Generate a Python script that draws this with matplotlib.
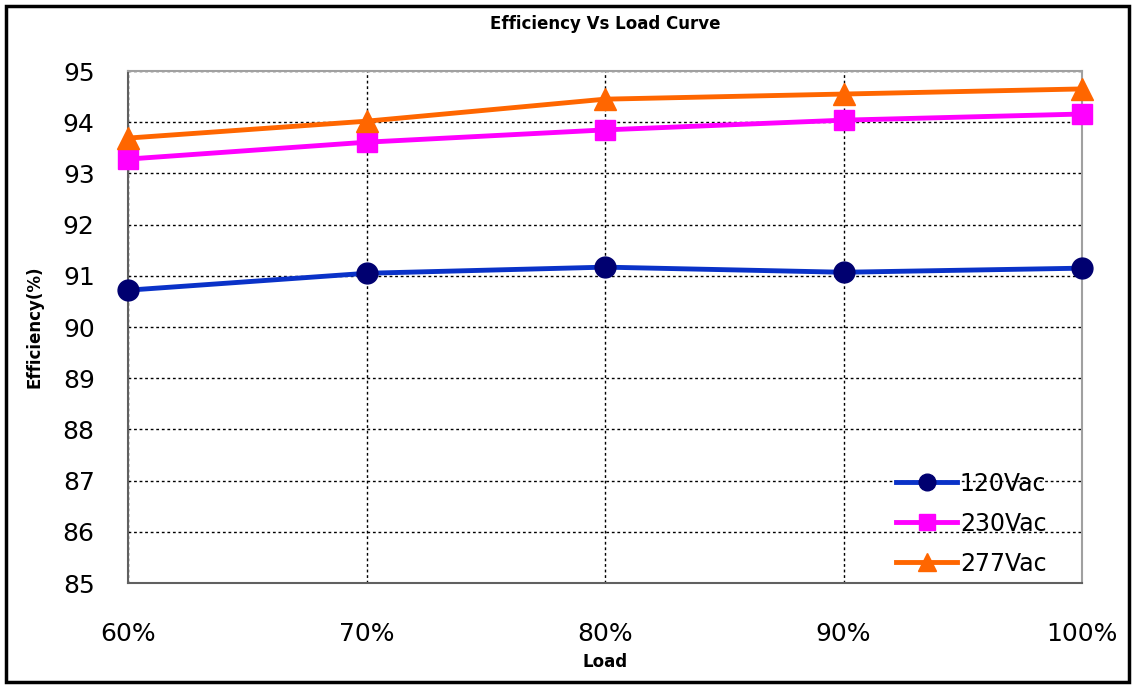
import matplotlib
matplotlib.use("Agg")
import matplotlib.pyplot as plt
from matplotlib.patches import Rectangle

# data
loads = [60, 70, 80, 90, 100]
load_labels = ["60%", "70%", "80%", "90%", "100%"]
eff_120 = [90.72, 91.05, 91.17, 91.07, 91.15]
eff_230 = [93.28, 93.61, 93.85, 94.04, 94.16]
eff_277 = [93.69, 94.02, 94.45, 94.55, 94.65]


def main():
    fig = plt.figure(figsize=(11.36, 6.86), dpi=100)
    # black frame around the whole picture
    fig.patches.append(Rectangle((0.005, 0.006), 0.989, 0.985, transform=fig.transFigure,
                                 fill=False, edgecolor="black", linewidth=2.5))

    ax = fig.add_axes([0.1127, 0.150, 0.8398, 0.7465])

    ax.plot(loads, eff_120, color="#0a32c8", linewidth=3.5, marker="o",
            markersize=15, markerfacecolor="#000070", markeredgecolor="#000070",
            label="120Vac", clip_on=False, zorder=3)
    ax.plot(loads, eff_230, color="#ff00ff", linewidth=3.5, marker="s",
            markersize=14, label="230Vac", clip_on=False, zorder=3)
    ax.plot(loads, eff_277, color="#ff6600", linewidth=3.5, marker="^",
            markersize=16, label="277Vac", clip_on=False, zorder=3)

    ax.set_xlim(60, 100)
    ax.set_ylim(85, 95)
    ax.set_xticks(loads)
    ax.set_xticklabels(load_labels)
    ax.set_yticks(range(85, 96))

    ax.grid(True, color="black", linestyle=(0, (2, 2)), linewidth=1)
    ax.tick_params(axis="x", length=0, pad=28, labelsize=18)
    ax.tick_params(axis="y", length=0, pad=24, labelsize=18)
    for s in ax.spines.values():
        s.set_color("#606060")
        s.set_linewidth(1.5)
    ax.spines["right"].set_color("#a0a0a0")
    ax.spines["top"].set_color("#a0a0a0")

    ax.set_title("Efficiency Vs Load Curve", fontsize=12, fontweight="bold", pad=30)
    ax.set_xlabel("Load", fontsize=12, fontweight="bold", labelpad=5)
    ax.set_ylabel("Efficiency(%)", fontsize=12, fontweight="bold", labelpad=14)

    leg = ax.legend(loc="lower right", frameon=False, fontsize=17, handlelength=2.6,
                    handletextpad=0.1, labelspacing=0.68, bbox_to_anchor=(0.985, -0.027),
                    markerscale=0.8)
    leg.set_zorder(5)

    fig.savefig("out.png", dpi=100)


if __name__ == "__main__":
    main()
